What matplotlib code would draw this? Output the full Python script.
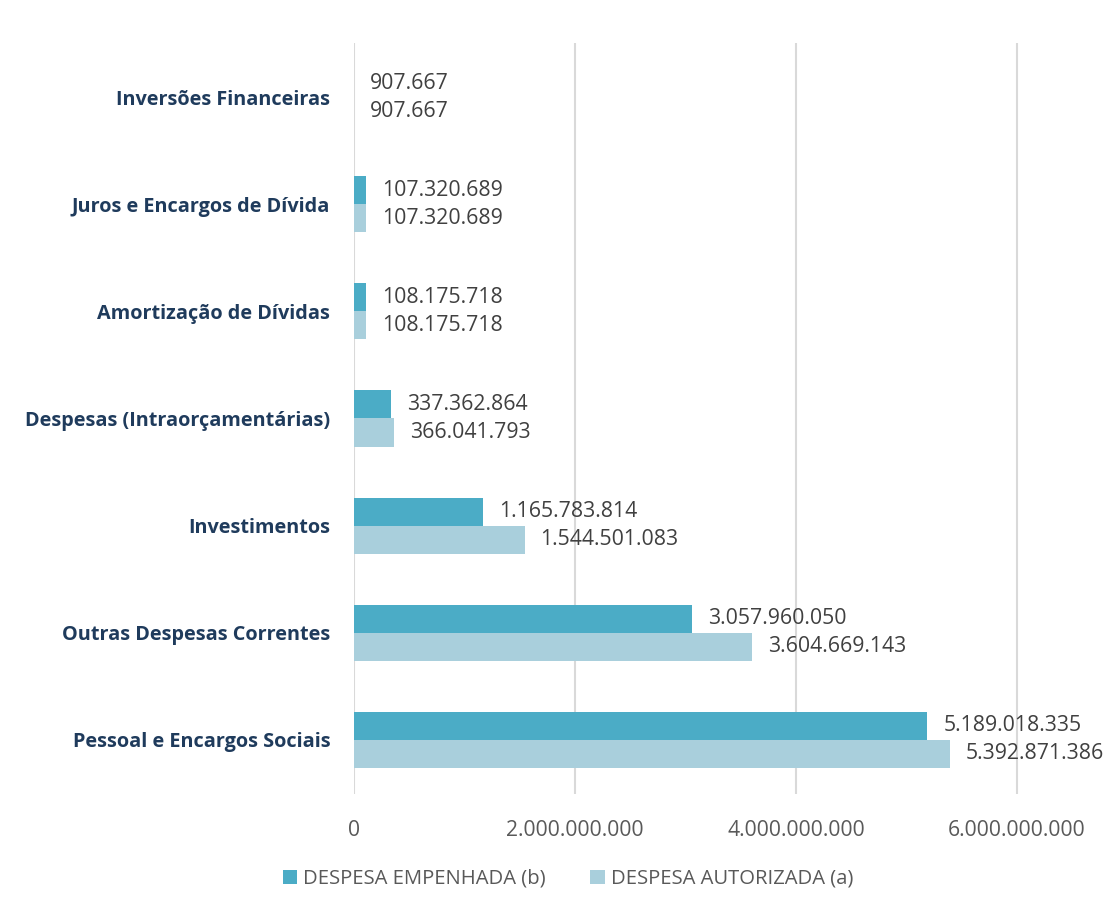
import matplotlib
matplotlib.use("Agg")
import matplotlib.pyplot as plt
import numpy as np

categories = ["Pessoal e Encargos Sociais", "Outras Despesas Correntes", "Investimentos",
              "Despesas (Intraorçamentárias)", "Amortização de Dívidas",
              "Juros e Encargos de Dívida", "Inversões Financeiras"]
empenhada = [5189018335, 3057960050, 1165783814, 337362864, 108175718, 107320689, 907667]
autorizada = [5392871386, 3604669143, 1544501083, 366041793, 108175718, 107320689, 907667]
xticks = [0, 2000000000, 4000000000, 6000000000]

def fmt(v):
    return f"{v:,.0f}".replace(",", ".")

plt.rcParams['font.family'] = ['Open Sans', 'DejaVu Sans']

fig = plt.figure(figsize=(11.03, 9.08), dpi=100)
ax = fig.add_axes([0.3209, 0.1261, 0.6791, 0.826])

y = np.arange(len(categories))
h = 0.262
c_emp = "#4BACC6"
c_aut = "#A9CFDC"
b1 = ax.barh(y + h/2, empenhada, height=h, color=c_emp, label="DESPESA EMPENHADA (b)", zorder=3)
b2 = ax.barh(y - h/2, autorizada, height=h, color=c_aut, label="DESPESA AUTORIZADA (a)", zorder=3)

for bars, vals in ((b1, empenhada), (b2, autorizada)):
    for rect, v in zip(bars, vals):
        ax.annotate(fmt(v), (rect.get_width(), rect.get_y() + rect.get_height()/2),
                    xytext=(11.5, 0), textcoords="offset points", ha="left", va="center",
                    fontsize=15.3, color="#404040", annotation_clip=False)

ax.set_xlim(0, 6.778e9)
ax.set_ylim(-0.5, len(categories) - 0.5)
ax.set_xticks(xticks)
ax.set_xticklabels([fmt(v) for v in xticks], fontsize=15.2, color="#595959")
ax.set_yticks(y)
ax.set_yticklabels(categories, fontsize=14.3, fontweight="bold", color="#1F3B5C")
ax.tick_params(axis="both", length=0)
ax.tick_params(axis="y", pad=17)
ax.tick_params(axis="x", pad=19)
ax.grid(axis="x", color="#D9D9D9", linewidth=1.5, zorder=0)
for s in ax.spines.values():
    s.set_visible(False)

fig.legend(handles=[b1, b2], loc="center", bbox_to_anchor=(0.515, 0.032), ncol=2, frameon=False,
           fontsize=14.6, labelcolor="#595959", handlelength=0.7, handleheight=0.7,
           columnspacing=2.2, handletextpad=0.3)

fig.savefig("out.png", dpi=100)
